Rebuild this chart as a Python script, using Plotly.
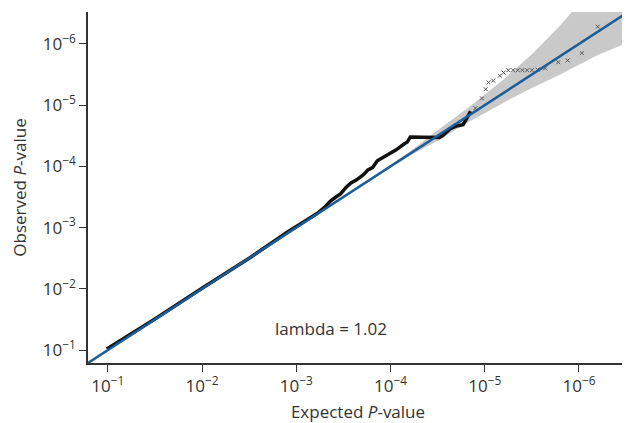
import plotly.graph_objects as go

# -log10 expected / observed P-values
obs_x = [0.99, 1.5, 2.0, 2.5, 2.9, 3.1, 3.22, 3.30, 3.36, 3.42, 3.47, 3.53, 3.58, 3.64, 3.71, 3.76, 3.81,
         3.86, 3.92, 4.00, 4.06, 4.14, 4.18, 4.21, 4.30, 4.45, 4.52, 4.56, 4.60, 4.63, 4.70, 4.77, 4.80, 4.85]
obs_y = [1.02, 1.51, 2.01, 2.50, 2.92, 3.11, 3.23, 3.33, 3.43, 3.50, 3.55, 3.66, 3.73, 3.78, 3.86, 3.94, 3.98,
         4.09, 4.14, 4.22, 4.27, 4.36, 4.40, 4.48, 4.48, 4.48, 4.47, 4.51, 4.57, 4.61, 4.66, 4.68, 4.76, 4.90]

tail_x = [4.90, 4.97, 5.01, 5.04, 5.09, 5.16, 5.20, 5.25, 5.30, 5.35, 5.40, 5.45, 5.50, 5.56,
          5.64, 5.78, 5.88, 6.03, 6.20, 6.50]
tail_y = [4.95, 5.11, 5.26, 5.37, 5.40, 5.48, 5.53, 5.57, 5.57, 5.57, 5.57, 5.57, 5.57, 5.58,
          5.60, 5.70, 5.73, 5.85, 6.28, 6.37]

band_x = [3.8, 4.2, 4.5, 4.8, 5.2, 5.5, 5.8, 5.94, 6.0, 6.2, 6.52]
band_hi = [3.81, 4.24, 4.59, 4.93, 5.42, 5.83, 6.30, 6.55, 6.70, 7.10, 8.10]
band_lo = [3.79, 4.17, 4.42, 4.70, 5.04, 5.28, 5.50, 5.60, 5.66, 5.82, 6.02]

diag = [0.79, 6.52]

tick_vals = [1, 2, 3, 4, 5, 6]
tick_text = ["10<sup>\u22121</sup>", "10<sup>\u22122</sup>", "10<sup>\u22123</sup>",
             "10<sup>\u22124</sup>", "10<sup>\u22125</sup>", "10<sup>\u22126</sup>"]
lambda_text = "lambda = 1.02"

fig = go.Figure()
fig.add_trace(go.Scatter(x=band_x + band_x[::-1], y=band_hi + band_lo[::-1], fill="toself",
                         fillcolor="#c9c9c9", line=dict(width=0), mode="lines", hoverinfo="skip"))
fig.add_trace(go.Scatter(x=obs_x, y=obs_y, mode="lines", line=dict(color="#111111", width=3.5)))
fig.add_trace(go.Scatter(x=tail_x, y=tail_y, mode="markers",
                         marker=dict(symbol="x-thin", size=4, line=dict(color="#5a5a5a", width=1))))
fig.add_trace(go.Scatter(x=diag, y=diag, mode="lines", line=dict(color="#1b5d98", width=2.5)))

fig.add_annotation(x=3.37, y=1.35, text=lambda_text, showarrow=False,
                   font=dict(size=17, color="#333333"), xanchor="center", yanchor="middle")

axis_common = dict(range=[0.79, 6.52], tickvals=tick_vals, ticktext=tick_text, showgrid=False,
                   zeroline=False, showline=True, linecolor="#333333", linewidth=1.5,
                   ticks="outside", ticklen=7, tickcolor="#333333", tickwidth=1,
                   automargin=False, tickfont=dict(size=17, color="#333333"))

fig.update_layout(
    width=622, height=415, showlegend=False,
    paper_bgcolor="white", plot_bgcolor="white",
    margin=dict(l=80, r=2, t=4, b=60),
    font=dict(family="Open Sans, Lato, sans-serif", color="#333333"),
    xaxis=dict(**axis_common, title=dict(text="Expected <i>P</i>-value", font=dict(size=17), standoff=10)),
    yaxis=dict(**axis_common, title=dict(text="Observed <i>P</i>-value", font=dict(size=17), standoff=12)),
)

fig.write_html("out.html")
